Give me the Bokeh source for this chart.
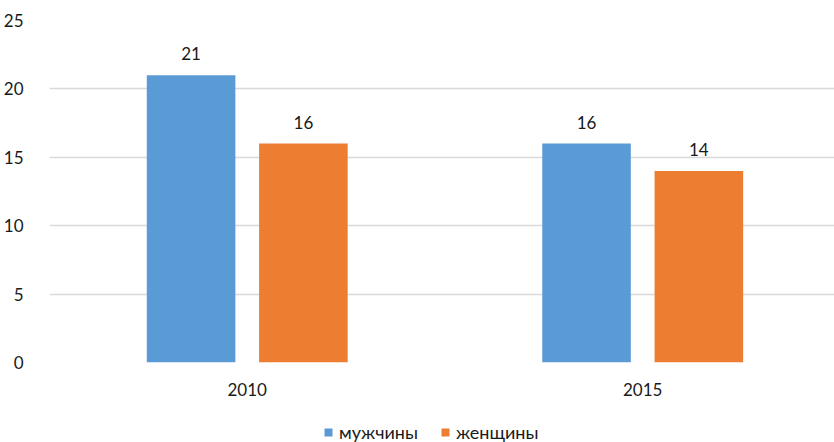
from bokeh.plotting import figure
from bokeh.layouts import column
from bokeh.models import ColumnDataSource, Range1d, Legend, LegendItem, FixedTicker, LabelSet
from bokeh.core.properties import value
from bokeh.embed import file_html
from bokeh.resources import INLINE

years = ["2010", "2015"]
men = [21, 16]
women = [16, 14]
series_names = ["мужчины", "женщины"]

BLUE = "#5B9BD5"
ORANGE = "#ED7D31"
FONT = "Lato"
TEXT = "#1a1a1a"

centers = [i + 0.5 for i in range(len(years))]
offset = 0.142
bar_w = 0.224

src_m = ColumnDataSource(dict(x=[c - offset for c in centers], top=men, lbl=[str(v) for v in men]))
src_w = ColumnDataSource(dict(x=[c + offset for c in centers], top=women, lbl=[str(v) for v in women]))

p = figure(width=834, height=402, output_backend="svg", toolbar_location=None,
           x_range=Range1d(0, 1.985), y_range=Range1d(0, 25),
           min_border_left=48, min_border_right=0, min_border_top=20,
           min_border_bottom=40)
p.outline_line_color = None
p.background_fill_color = "white"
p.border_fill_color = "white"

r_m = p.vbar(x="x", top="top", width=bar_w, source=src_m, color=BLUE, line_color=None)
r_w = p.vbar(x="x", top="top", width=bar_w, source=src_w, color=ORANGE, line_color=None)

for src in (src_m, src_w):
    p.add_layout(LabelSet(x="x", y="top", text="lbl", source=src, y_offset=15,
                          text_align="center", text_baseline="bottom",
                          text_font=value(FONT), text_font_size="17px", text_color=TEXT))

# y axis
p.yaxis.ticker = FixedTicker(ticks=[0, 5, 10, 15, 20, 25])
p.yaxis.axis_line_color = None
p.yaxis.major_tick_line_color = None
p.yaxis.minor_tick_line_color = None
p.yaxis.major_label_standoff = 20
p.yaxis.major_label_text_font = FONT
p.yaxis.major_label_text_font_size = "17px"
p.yaxis.major_label_text_color = TEXT

# x axis with year labels
p.xaxis.ticker = FixedTicker(ticks=centers)
p.xaxis.major_label_overrides = {c: y for c, y in zip(centers, years)}
p.xaxis.axis_line_color = None
p.xaxis.major_tick_line_color = None
p.xaxis.minor_tick_line_color = None
p.xaxis.major_label_standoff = 14
p.xaxis.major_label_text_font = FONT
p.xaxis.major_label_text_font_size = "17px"
p.xaxis.major_label_text_color = TEXT

p.xgrid.grid_line_color = None
p.ygrid.grid_line_color = "#D9D9D9"
p.ygrid.grid_line_width = 1.5

# legend strip under the chart; its key glyphs sit outside the visible range
lg = figure(width=834, height=40, output_backend="svg", toolbar_location=None,
            x_range=Range1d(0, 1), y_range=Range1d(0, 1),
            min_border_left=0, min_border_right=0, min_border_top=0, min_border_bottom=0)
lg.axis.visible = False
lg.grid.grid_line_color = None
lg.outline_line_color = None
lg.border_fill_color = "white"
k_m = lg.vbar(x=[5], top=[1], width=0.1, color=BLUE, line_color=None)
k_w = lg.vbar(x=[5], top=[1], width=0.1, color=ORANGE, line_color=None)

legend = Legend(items=[LegendItem(label=series_names[0], renderers=[k_m]),
                       LegendItem(label=series_names[1], renderers=[k_w])],
                orientation="horizontal", location=(274, -1),
                label_text_font=FONT, label_text_font_size="18px", label_text_color=TEXT,
                label_height=18, glyph_width=10, glyph_height=10, spacing=22, label_standoff=6,
                padding=0, margin=0, border_line_color=None, background_fill_alpha=0)
lg.add_layout(legend, "center")

open("out.html", "w").write(file_html(column(p, lg, spacing=0), INLINE))
